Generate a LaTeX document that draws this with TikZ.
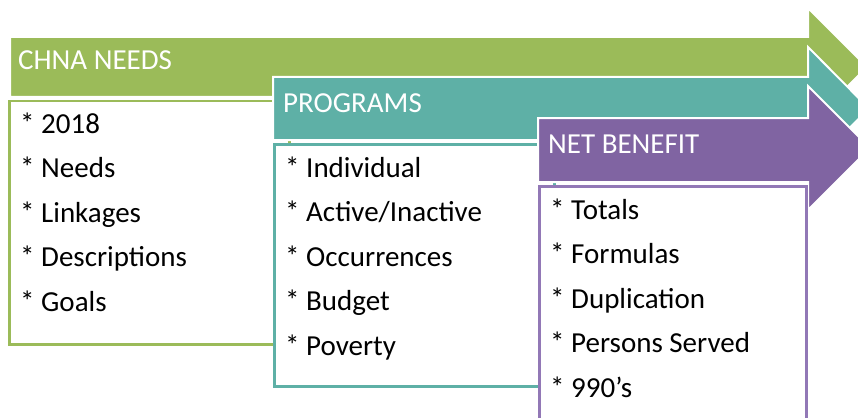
\documentclass[tikz,border=0pt]{standalone}
\usepackage{fontspec}
\setmainfont{Carlito}
\usetikzlibrary{positioning}
\definecolor{needsGreen}{RGB}{155,187,89}
\definecolor{progTeal}{RGB}{94,176,166}
\definecolor{benefitPurple}{RGB}{128,100,162}
\definecolor{benefitLine}{RGB}{146,120,182}
\tikzstyle{headText}=[anchor = base west, text = white, inner sep = 0pt, font = \fontsize{29}{35}\selectfont]
\tikzstyle{itemText}=[anchor = base west, text = black, inner sep = 0pt, font = \fontsize{29}{35}\selectfont]
\tikzstyle{listBox}=[shape = rectangle, anchor = north west, fill = white, line width = 2.5pt, inner sep = 0pt]

\begin{document}
\begin{tikzpicture}[x = 1pt, y = -1pt]
\tikzstyle{arrowBand}=[draw = white, line width = 2pt, line join = miter]
\useasboundingbox (0,0) rectangle (858,417);
\clip (0,0) rectangle (858,417);
\fill[arrowBand, fill = needsGreen] (10,37) -- (808,37) -- (808,8) -- (867,67) -- (808,126) -- (808,97) -- (10,97) -- cycle;
\node[headText] (needsHead) at (18,70) {CHNA NEEDS};
\node[listBox, draw = needsGreen, minimum width = 280pt, minimum height = 243pt] (needsBox) at (8,100) {};
\foreach \entry [count = \i] in {2018, Needs, Linkages, Descriptions, Goals}
  \node[itemText] (needs\i) at (20, 133 + 44.6*\i - 44.6) {* \entry};
\fill[arrowBand, fill = progTeal] (273,77) -- (808,77) -- (808,47) -- (869,108.5) -- (808,170) -- (808,140) -- (273,140) -- cycle;
\node[headText] (progHead) at (283,112) {PROGRAMS};
\node[listBox, draw = progTeal, minimum width = 280pt, minimum height = 242pt] (progBox) at (273,143) {};
\foreach \entry [count = \i] in {Individual, Active/Inactive, Occurrences, Budget, Poverty}
  \node[itemText] (prog\i) at (285, 177 + 44.6*\i - 44.6) {* \entry};
\fill[arrowBand, fill = benefitPurple] (538,118) -- (808,118) -- (808,86) -- (870,148) -- (808,210) -- (808,182) -- (538,182) -- cycle;
\node[headText] (benefitHead) at (548,153) {NET BENEFIT};
\node[listBox, draw = benefitLine, minimum width = 267pt, minimum height = 250pt] (benefitBox) at (538,185) {};
\foreach \entry [count = \i] in {Totals, Formulas, Duplication, Persons Served, 990’s}
  \node[itemText] (benefit\i) at (550, 219 + 44.6*\i - 44.6) {* \entry};
\end{tikzpicture}
\end{document}
